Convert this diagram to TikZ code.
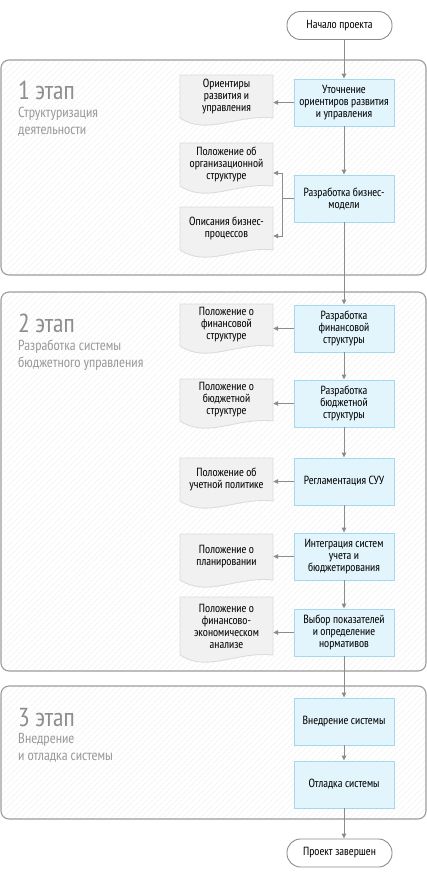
\documentclass[tikz,border=0pt]{standalone}
\usepackage{fontspec}
\setmainfont{PT Sans Narrow}
\usetikzlibrary{arrows.meta,patterns.meta,calc}
\definecolor{linec}{HTML}{8C8C8C}
\definecolor{framec}{HTML}{9C9C9C}
\definecolor{boxfill}{HTML}{E2F5FC}
\definecolor{boxdraw}{HTML}{A3D9EE}
\definecolor{docfill}{HTML}{F1F1F1}
\definecolor{docdraw}{HTML}{DCDCDC}
\definecolor{titlec}{HTML}{8E8E8E}
\definecolor{subc}{HTML}{9A9A9A}
\definecolor{hatchc}{HTML}{EDEDED}
\newcommand\boxfont{\fontsize{11.8}{12}\selectfont}
\newcommand\titlefont{\fontsize{26}{26}\selectfont}
\newcommand\subfont{\fontsize{14.5}{17}\selectfont}
\tikzset{
  stagebox/.style={draw=framec, line width=1.1pt, rounded corners=8pt,
    preaction={fill=white},
    pattern={Lines[angle=45,distance=4pt,line width=0.6pt]}, pattern color=hatchc},
  procbox/.style={draw=boxdraw, fill=boxfill, line width=0.9pt,
    minimum width=100pt, minimum height=47pt, inner sep=0pt, align=center, font=\boxfont},
  termbox/.style={draw=linec, fill=white, line width=0.9pt, rounded corners=13.5pt,
    minimum width=105pt, minimum height=28pt, inner sep=0pt, font=\boxfont},
  docshape/.style={draw=docdraw, fill=docfill, line width=0.9pt},
  doctext/.style={minimum width=93pt, inner sep=0pt, align=center, font=\boxfont},
  conn/.style={draw=linec, line width=0.9pt},
  arr/.style={conn, -{Triangle[length=5pt,width=4.5pt]}},
  stitle/.style={anchor=base west, inner sep=0pt, text=titlec, font=\titlefont},
  ssub/.style={anchor=base west, inner sep=0pt, text=subc, font=\subfont},
}
% name, left x, top y, height, text
\newcommand\docnode[5]{%
  \path[docshape] (#2,#3) -- (#2+93,#3) -- (#2+93,#3+#4)
    .. controls (#2+56,#3+#4-4) and (#2+28,#3+#4+18) .. (#2,#3+#4) -- cycle;
  \node[doctext] (#1) at (#2+46.5,#3+#4/2) {#5};}
\begin{document}
\begin{tikzpicture}[x=1pt,y=-1pt]
\useasboundingbox (0,0) rectangle (427,878);
% stage frames
\path[stagebox] (1,60) rectangle (426,275);
\path[stagebox] (1,292) rectangle (426,671);
\path[stagebox] (1,686) rectangle (426,819);
% stage titles
\node[stitle] (t1) at (18,99) {1 этап};
\node[ssub] (s1a) at (18,117) {Структуризация};
\node[ssub] (s1b) at (18,134) {деятельности};
\node[stitle] (t2) at (18,332) {2 этап};
\node[ssub] (s2a) at (18,350) {Разработка системы};
\node[ssub] (s2b) at (18,367) {бюджетного управления};
\node[stitle] (t3) at (18,726) {3 этап};
\node[ssub] (s3a) at (18,743) {Внедрение};
\node[ssub] (s3b) at (18,760) {и отладка системы};
% terminals
\node[termbox] (st) at (339.5,25.5) {Начало проекта};
\node[termbox] (en) at (339.5,853) {Проект завершен};
% process boxes
\node[procbox] (b1) at (344,102.5) {Уточнение\\ориентиров развития\\и управления};
\node[procbox] (b2) at (344,198.5) {Разработка бизнес-\\модели};
\node[procbox] (b3) at (344,328.5) {Разработка\\финансовой\\структуры};
\node[procbox] (b4) at (344,403.5) {Разработка\\бюджетной\\структуры};
\node[procbox] (b5) at (344,481.5) {Регламентация СУУ};
\node[procbox] (b6) at (344,556.5) {Интеграция систем\\учета и\\бюджетирования};
\node[procbox] (b7) at (344,632.5) {Выбор показателей\\и определение\\нормативов};
\node[procbox] (b8) at (344,721.5) {Внедрение системы};
\node[procbox] (b9) at (344,784.5) {Отладка системы};
% documents
\docnode{d1}{180}{75}{43}{Ориентиры\\развития и\\управления}
\docnode{d2}{180}{143}{43}{Положение об\\организационной\\структуре}
\docnode{d3}{180}{207}{43}{Описания бизнес-\\процессов}
\docnode{d4}{180}{304}{42}{Положение о\\финансовой\\структуре}
\docnode{d5}{180}{379}{42}{Положение о\\бюджетной\\структуре}
\docnode{d6}{180}{458}{43}{Положение об\\учетной политике}
\docnode{d7}{180}{534}{46}{Положение о\\планировании}
\docnode{d8}{180}{597}{58}{Положение о\\финансово-\\экономическом\\анализе}
% main flow
\draw[arr] (st.south -| b1.north) -- (b1.north);
\draw[arr] (b1.south) -- (b2.north);
\draw[arr] (b2.south) -- (b3.north);
\draw[arr] (b3.south) -- (b4.north);
\draw[arr] (b4.south) -- (b5.north);
\draw[arr] (b5.south) -- (b6.north);
\draw[arr] (b6.south) -- (b7.north);
\draw[arr] (b7.south) -- (b8.north);
\draw[arr] (b8.south) -- (b9.north);
\draw[arr] (b9.south) -- (b9.south |- en.north);
% outputs
\draw[arr] (b1.west) -- (b1.west -| d1.east);
\coordinate (j2) at ($(b2.west)+(-11,0)$);
\draw[conn] (b2.west) -- (j2);
\draw[arr] (j2) |- ($(d2.east)+(0,8.5)$);
\draw[arr] (j2) |- ($(d3.east)+(0,7.5)$);
\draw[arr] (b3.west) -- (b3.west -| d4.east);
\draw[arr] (b4.west) -- (b4.west -| d5.east);
\draw[arr] (b5.west) -- (b5.west -| d6.east);
\draw[arr] (b6.west) -- (b6.west -| d7.east);
\draw[arr] (b7.west) -- (b7.west -| d8.east);
\end{tikzpicture}
\end{document}
